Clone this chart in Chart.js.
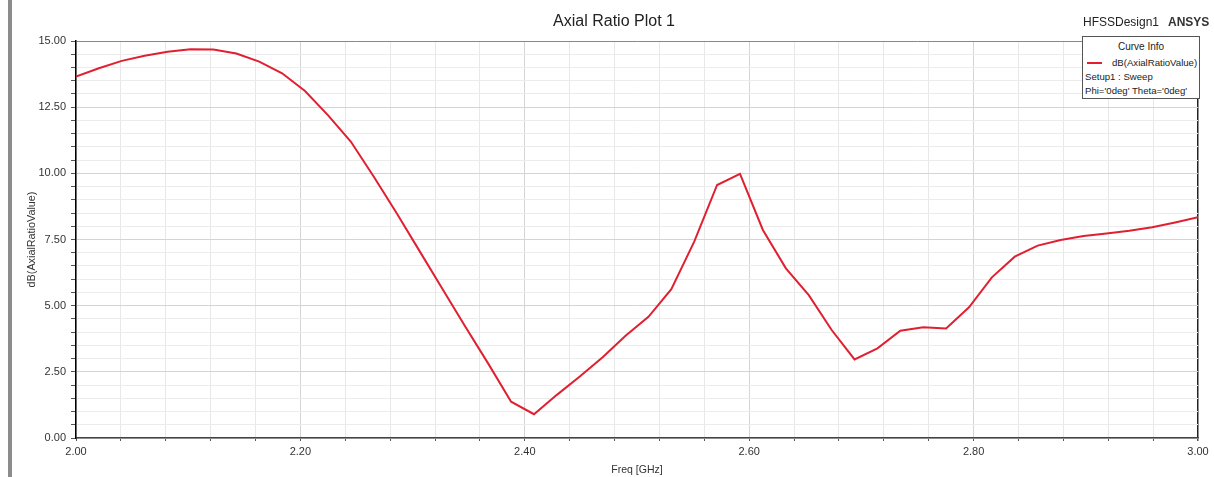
<!DOCTYPE html>
<html>
<head>
<meta charset="utf-8">
<script src="https://cdn.jsdelivr.net/npm/chart.js@4.4.1/dist/chart.umd.min.js"></script>
<style>
  body { margin: 0; background: #fff; font-family: "Liberation Sans", Arial, sans-serif; }
  #wrap { position: relative; width: 1214px; height: 477px; overflow: hidden; }
  #plot { position: absolute; left: 0; top: 0; }
  .side-bar { position: absolute; left: 8px; top: 0; width: 4px; height: 477px; background: #8c8c8c; }
  .title { position: absolute; left: 414px; width: 400px; top: 12px; text-align: center; font-size: 16px; color: #222; }
  .design { position: absolute; left: 1083px; top: 15px; font-size: 12px; color: #222; }
  .brand { position: absolute; left: 1168px; top: 15px; font-size: 12px; font-weight: bold; color: #333; }
  .curve-info { position: absolute; left: 1082px; top: 36px; width: 116px; height: 61px; border: 1px solid #555; background: #fff; font-size: 9.6px; color: #222; }
  .curve-info .head { position: absolute; left: 0; width: 116px; top: 4px; text-align: center; font-size: 10px; }
  .curve-info .swatch { position: absolute; left: 4px; top: 25px; width: 15px; height: 2px; background: #e02030; }
  .curve-info .l1 { position: absolute; left: 29px; top: 20px; }
  .curve-info .l2 { position: absolute; left: 2px; top: 34px; }
  .curve-info .l3 { position: absolute; left: 2px; top: 48px; }
</style>
</head>
<body>
<div id="wrap">
  <canvas id="plot" width="1214" height="477"></canvas>
  <div class="side-bar"></div>
  <div class="title">Axial Ratio Plot 1</div>
  <div class="design">HFSSDesign1</div>
  <div class="brand">ANSYS</div>
  <div class="curve-info">
    <div class="head">Curve Info</div>
    <div class="swatch"></div>
    <div class="l1">dB(AxialRatioValue)</div>
    <div class="l2">Setup1 : Sweep</div>
    <div class="l3">Phi='0deg' Theta='0deg'</div>
  </div>
</div>
<script>
// ── Data ──────────────────────────────────────────────────────────────────────
const freqGHz = [
  2.0000, 2.0204, 2.0408, 2.0612, 2.0816, 2.1020, 2.1224, 2.1429, 2.1633, 2.1837,
  2.2041, 2.2245, 2.2449, 2.2653, 2.2857, 2.3061, 2.3265, 2.3469, 2.3673, 2.3878,
  2.4082, 2.4286, 2.4490, 2.4694, 2.4898, 2.5102, 2.5306, 2.5510, 2.5714, 2.5918,
  2.6122, 2.6327, 2.6531, 2.6735, 2.6939, 2.7143, 2.7347, 2.7551, 2.7755, 2.7959,
  2.8163, 2.8367, 2.8571, 2.8776, 2.8980, 2.9184, 2.9388, 2.9592, 2.9796, 3.0000
];
const axialRatioDb = [
  13.66, 13.97, 14.25, 14.44, 14.59, 14.69, 14.68, 14.53, 14.22, 13.78,
  13.11, 12.20, 11.20,  9.88,  8.50,  7.07,  5.64,  4.21,  2.82,  1.37,
   0.90,  1.63,  2.32,  3.05,  3.86,  4.58,  5.62,  7.42,  9.56,  9.98,
   7.86,  6.41,  5.40,  4.08,  2.97,  3.39,  4.05,  4.18,  4.14,  4.94,
   6.07,  6.85,  7.27,  7.48,  7.63,  7.73,  7.83,  7.96,  8.14,  8.34
];
const xRange = [2.0, 3.0];
const yRange = [0, 15];
const xMajorStep = 0.2, xMinorStep = 0.04;
const yMajorStep = 2.5, yMinorStep = 0.5;

// ── Helpers ───────────────────────────────────────────────────────────────────
const isMultiple = (v, step) => Math.abs(v / step - Math.round(v / step)) < 1e-6;
const near = (a, b) => Math.abs(a - b) < 1e-6;

const points = freqGHz.map((f, i) => ({ x: f, y: axialRatioDb[i] }));
const tickFont = { family: '"Liberation Sans", Arial, sans-serif', size: 11 };

new Chart(document.getElementById('plot').getContext('2d'), {
  type: 'line',
  data: {
    datasets: [{
      label: 'dB(AxialRatioValue)',
      data: points,
      borderColor: '#e02030',
      borderWidth: 2,
      pointRadius: 0,
      tension: 0,
      fill: false,
    }]
  },
  options: {
    responsive: false,
    animation: false,
    layout: { padding: { left: 0, top: 41, right: 16, bottom: 0 } },
    plugins: { legend: { display: false }, title: { display: false }, tooltip: { enabled: false } },
    scales: {
      x: {
        type: 'linear',
        min: xRange[0], max: xRange[1],
        afterFit: (s) => { s.height = 39; },
        ticks: {
          stepSize: xMinorStep, autoSkip: false, maxRotation: 0, padding: 4,
          color: '#333', font: tickFont,
          callback: (v) => isMultiple(v, xMajorStep) ? Number(v).toFixed(2) : '',
        },
        grid: {
          tickLength: 3,
          tickColor: '#555',
          color: (c) => near(c.tick.value, xRange[1]) ? '#222'
                      : isMultiple(c.tick.value, xMajorStep) ? '#d4d4d4' : '#e8e8e8',
          lineWidth: (c) => near(c.tick.value, xRange[1]) ? 1.5 : 1,
        },
        border: { color: '#444', width: 1.5 },
        title: {
          display: true, text: 'Freq [GHz]', color: '#333',
          font: { family: tickFont.family, size: 10.5 }, padding: { top: 0, bottom: 1 },
        },
      },
      y: {
        min: yRange[0], max: yRange[1],
        afterFit: (s) => { s.width = 76; },
        ticks: {
          stepSize: yMinorStep, autoSkip: false, padding: 5,
          color: '#333', font: tickFont,
          callback: (v) => isMultiple(v, yMajorStep) ? Number(v).toFixed(2) : '',
        },
        grid: {
          tickLength: 5,
          tickColor: '#555',
          color: (c) => near(c.tick.value, yRange[1]) ? '#888'
                      : isMultiple(c.tick.value, yMajorStep) ? '#d4d4d4' : '#ececec',
        },
        border: { color: '#000', width: 1.5 },
        title: {
          display: true, text: 'dB(AxialRatioValue)', color: '#333',
          font: { family: tickFont.family, size: 10.8 }, padding: { top: 26, bottom: 0 },
        },
      },
    },
  },
});
</script>
</body>
</html>
